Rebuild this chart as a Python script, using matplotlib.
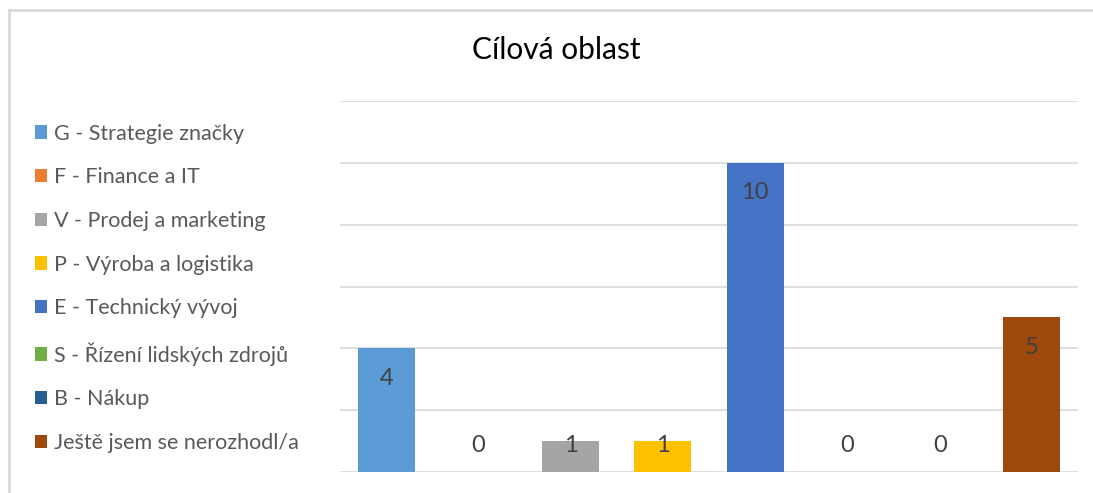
import matplotlib.pyplot as plt
from matplotlib.lines import Line2D

plt.rcParams['font.family'] = ['Lato', 'DejaVu Sans']

categories = ['G - Strategie značky', 'F - Finance a IT', 'V - Prodej a marketing',
              'P - Výroba a logistika', 'E - Technický vývoj', 'S - Řízení lidských zdrojů',
              'B - Nákup', 'Ještě jsem se nerozhodl/a']
counts = [4, 0, 1, 1, 10, 0, 0, 5]
colors = ['#5B9BD5', '#ED7D31', '#A5A5A5', '#FFC000', '#4472C4', '#70AD47', '#255E91', '#9E480E']

fig = plt.figure(figsize=(10.93, 4.93), dpi=100)
ax = fig.add_axes([340 / 1093, 21 / 493, 738 / 1093, 371 / 493])

bars = []
for i, (name, v, c) in enumerate(zip(categories, counts, colors)):
    b = ax.bar(i, v, width=0.62, color=c, label=name, zorder=2)
    bars.append(b)
    # popisek hodnoty uvnitr konce sloupce
    ax.text(i, max(v - 0.97, 0.87), str(v), ha='center', va='center',
            fontsize=17, color='#404040', zorder=3)

ax.set_xlim(-0.5, 7.5)
ax.set_ylim(0, 12)
ax.set_yticks(range(0, 13, 2))
ax.grid(axis='y', color='#d9d9d9', linewidth=1.2, zorder=0)
ax.tick_params(left=False, bottom=False, labelleft=False, labelbottom=False)
for s in ax.spines.values():
    s.set_visible(False)

fig.text(556 / 1093, 1 - 50 / 493, 'Cílová oblast', ha='center', va='center',
         fontsize=21.5, color='#000000')

leg = fig.legend(handles=[b[0] for b in bars], labels=categories, loc='upper left',
                 bbox_to_anchor=(26 / 1093, 1 - 115 / 493), frameon=False,
                 fontsize=15.5, handlelength=0.58, handleheight=0.58, handletextpad=0.3,
                 labelspacing=1.1, borderaxespad=0)
for t in leg.get_texts():
    t.set_color('#595959')

# ramecek grafu (orezany vpravo a dole)
fig.add_artist(Line2D([9 / 1093, 1.0], [1 - 10 / 493, 1 - 10 / 493], color='#d9d9d9',
                      linewidth=2, transform=fig.transFigure))
fig.add_artist(Line2D([9 / 1093, 9 / 1093], [0, 1 - 10 / 493], color='#d9d9d9',
                      linewidth=2, transform=fig.transFigure))

plt.savefig('out.png', dpi=100)
